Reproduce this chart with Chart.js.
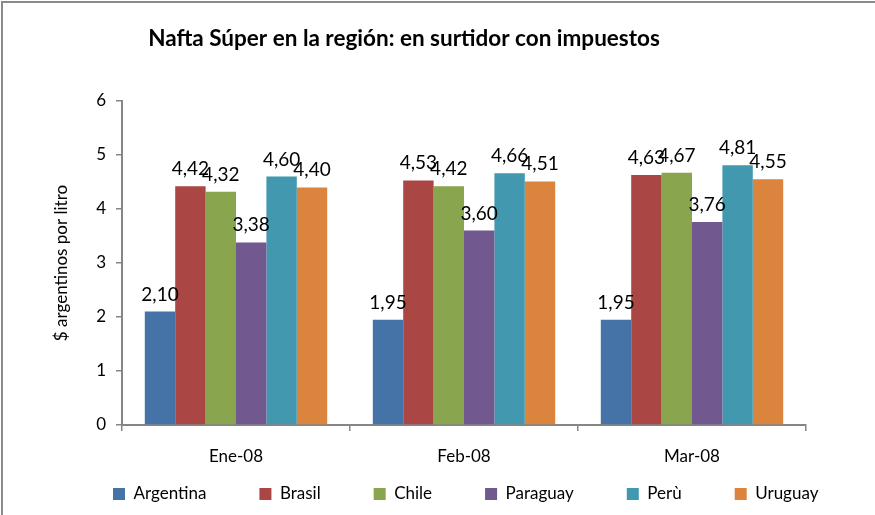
<!DOCTYPE html>
<html>
<head>
<meta charset="utf-8">
<title>Nafta Súper en la región</title>
<script src="https://cdn.jsdelivr.net/npm/chart.js@4"></script>
<style>
  html, body { margin: 0; padding: 0; background: #fff; overflow: hidden; }
  #wrap { position: relative; width: 875px; height: 515px; overflow: hidden; }
  #frame { position: absolute; left: 1px; top: 1px; width: 900px; height: 600px;
           border-left: 2px solid #8a8a8a; border-top: 2px solid #8a8a8a; pointer-events: none; }
</style>
</head>
<body>
<div id="wrap">
  <canvas id="naftaChart" width="875" height="515"></canvas>
  <div id="frame"></div>
</div>
<script>
// data
const months = ["Ene-08", "Feb-08", "Mar-08"];
const countries = ["Argentina", "Brasil", "Chile", "Paraguay", "Perù", "Uruguay"];
const argentina = [2.10, 1.95, 1.95];
const brasil = [4.42, 4.53, 4.63];
const chile = [4.32, 4.42, 4.67];
const paraguay = [3.38, 3.60, 3.76];
const peru = [4.60, 4.66, 4.81];
const uruguay = [4.40, 4.51, 4.55];
const yTicks = [0, 1, 2, 3, 4, 5, 6];

const titleText = "Nafta Súper en la región: en surtidor con impuestos";
const yTitle = "$ argentinos por litro";

const seriesValues = [argentina, brasil, chile, paraguay, peru, uruguay];
const colors = ["#4572A7", "#AA4643", "#89A54E", "#71588F", "#4198AF", "#DB843D"];
const axisGray = "#868686";
const legendGap = 53;

Chart.defaults.font.family = "Lato, 'Open Sans', sans-serif";
Chart.defaults.color = "#000";

// value labels above each bar, Excel style "4,42"
const barLabels = {
  id: "barLabels",
  afterDatasetsDraw(chart) {
    const ctx = chart.ctx;
    ctx.save();
    ctx.font = "19px Lato, sans-serif";
    ctx.fillStyle = "#000";
    ctx.textAlign = "center";
    ctx.textBaseline = "alphabetic";
    chart.data.datasets.forEach((ds, i) => {
      chart.getDatasetMeta(i).data.forEach((bar, j) => {
        ctx.fillText(ds.data[j].toFixed(2).replace(".", ","), bar.x, bar.y - 11);
      });
    });
    ctx.restore();
  }
};

// chart title sits left of centre in the original
const chartTitle = {
  id: "chartTitle",
  afterDraw(chart) {
    const ctx = chart.ctx;
    ctx.save();
    ctx.font = "bold 22.5px Lato, sans-serif";
    ctx.fillStyle = "#000";
    ctx.textAlign = "center";
    ctx.textBaseline = "alphabetic";
    ctx.fillText(titleText, 404, 46);
    ctx.restore();
  }
};

const ctx = document.getElementById("naftaChart").getContext("2d");
const naftaChart = new Chart(ctx, {
  type: "bar",
  data: {
    labels: months,
    datasets: countries.map((name, i) => ({
      label: name,
      data: seriesValues[i],
      backgroundColor: colors[i],
      borderWidth: 0,
      categoryPercentage: 0.8,
      barPercentage: 1,
      yAxisID: "y"
    }))
  },
  options: {
    responsive: false,
    animation: false,
    layout: { padding: { left: 113 - legendGap, top: 101, right: 0, bottom: 2.5 } },
    scales: {
      x: {
        grid: { offset: true, drawOnChartArea: false, drawTicks: true, tickLength: 6, color: axisGray, lineWidth: 1.5 },
        border: { color: axisGray, width: 2 },
        // mirrored + negative padding: labels land below the axis and are not clipped to the thin box
        ticks: { padding: -41.5, maxRotation: 0, mirror: true, font: { size: 17 } },
        afterFit(scale) { scale.height = 7.5; }
      },
      y: {
        min: 0,
        max: 6,
        afterBuildTicks(scale) { scale.ticks = yTicks.map(v => ({ value: v })); },
        grid: { drawOnChartArea: false, drawTicks: true, tickLength: 6, color: axisGray, lineWidth: 1.5 },
        border: { color: axisGray, width: 2 },
        ticks: { padding: 10, font: { size: 17 } },
        title: {
          display: true,
          text: yTitle,
          font: { size: 17, lineHeight: 1 },
          padding: { top: -7, bottom: 0 }
        },
        afterFit(scale) { scale.width = 122 - (113 - legendGap); }
      },
      yRight: {
        type: "linear",
        position: "right",
        grid: { display: false, drawTicks: false },
        border: { display: false },
        ticks: { display: false },
        afterFit(scale) { scale.width = 69; }
      }
    },
    plugins: {
      title: { display: false },
      tooltip: { enabled: false },
      legend: {
        position: "bottom",
        align: "start",
        maxHeight: 80,
        labels: {
          boxWidth: 12,
          boxHeight: 12,
          padding: legendGap,
          font: { size: 17 }
        }
      }
    }
  },
  plugins: [barLabels, chartTitle]
});
</script>
</body>
</html>
